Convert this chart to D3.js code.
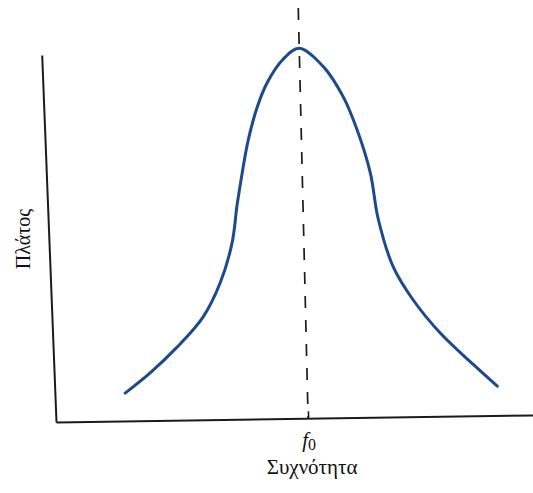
<!DOCTYPE html>
<html>
<head>
<meta charset="utf-8">
<script src="https://cdn.jsdelivr.net/npm/d3@7"></script>
<style>
    body { margin: 0; background: #fff; }
</style>
</head>
<body>
<svg width="533" height="493"></svg>
<script>

// resonance curve, frequency given as a fraction of f0, amplitude as a fraction of the axis height
var freq = [0.277, 0.378, 0.487, 0.593, 0.664, 0.715, 0.739, 0.762, 0.789, 0.828, 0.869, 0.935, 1.0,
            1.093, 1.170, 1.222, 1.270, 1.297, 1.352, 1.428, 1.532, 1.660, 1.753];
var amp  = [0.076, 0.130, 0.199, 0.280, 0.372, 0.480, 0.585, 0.671, 0.760, 0.850, 0.915, 0.979, 1.008,
            0.958, 0.874, 0.783, 0.666, 0.540, 0.409, 0.318, 0.227, 0.140, 0.080];

var f0 = 1;
var xDomain = [0, 1.9];
var yDomain = [0, 1];
var dashTop = 1.118;   // dashed marker runs above the axis, off the top of the page

var xLabel = "Συχνότητα";
var yLabel = "Πλάτος";

var serif = "'Liberation Serif', 'DejaVu Serif', serif";

//setup the SVG canvas
var svg = d3.select("svg"),
    width = +svg.attr("width"),
    height = +svg.attr("height");

var origin = [56, 422];

var x = d3.scaleLinear().domain(xDomain).range([0, 479]);
var y = d3.scaleLinear().domain(yDomain).range([0, -367]);

// the scanned figure is slightly skewed, so the plot frame is too
var plot = svg.append("g")
    .attr("transform", "matrix(1,-0.0147,0.024,1," + origin[0] + "," + origin[1] + ")");

var yAxisG = svg.append("g")
    .attr("transform", "matrix(1,0,0.039,1," + origin[0] + "," + origin[1] + ")");

// y axis: plain line, no ticks
yAxisG.call(d3.axisLeft(y).tickValues([]).tickSizeOuter(0));
yAxisG.select(".domain")
    .attr("stroke", "#1b1b1b")
    .attr("stroke-width", 2);

// x axis: one inward tick at f0
var xAxisG = plot.append("g")
    .call(d3.axisBottom(x).tickValues([f0]).tickSizeInner(-7).tickSizeOuter(0).tickFormat(""));
xAxisG.select(".domain")
    .attr("stroke", "#1b1b1b")
    .attr("stroke-width", 2);
xAxisG.selectAll(".tick line")
    .attr("stroke", "#1b1b1b")
    .attr("stroke-width", 1.6);

// dashed line through the peak
plot.append("line")
    .attr("x1", x(f0)).attr("y1", y(dashTop))
    .attr("x2", x(f0)).attr("y2", y(0))
    .attr("stroke", "#1b1b1b")
    .attr("stroke-width", 1.7)
    .attr("stroke-dasharray", "12,12");

// the curve
var pts = freq.map(function (f, i) { return [f, amp[i]]; });

var line = d3.line()
    .x(function (d) { return x(d[0]); })
    .y(function (d) { return y(d[1]); })
    .curve(d3.curveCatmullRom.alpha(0.5));

plot.append("path")
    .datum(pts)
    .attr("d", line)
    .attr("fill", "none")
    .attr("stroke", "#1d4a8a")
    .attr("stroke-width", 3)
    .attr("stroke-linecap", "round");

// labels
var tickX = origin[0] + x(f0);

var f0Label = svg.append("text")
    .attr("x", tickX + 1)
    .attr("y", 447)
    .attr("text-anchor", "middle")
    .attr("font-family", serif)
    .attr("fill", "#111")
    .style("font-size", "21px");
f0Label.append("tspan").style("font-style", "italic").text("f");
f0Label.append("tspan").attr("dy", 3).style("font-size", "16px").text("0");

svg.append("text")
    .attr("x", tickX + 4)
    .attr("y", 474)
    .attr("text-anchor", "middle")
    .attr("font-family", serif)
    .attr("fill", "#111")
    .style("font-size", "21px")
    .text(xLabel);

svg.append("text")
    .attr("transform", "translate(30,239) rotate(-90)")
    .attr("text-anchor", "middle")
    .attr("font-family", serif)
    .attr("fill", "#111")
    .style("font-size", "20px")
    .text(yLabel);

</script>
</body>
</html>
